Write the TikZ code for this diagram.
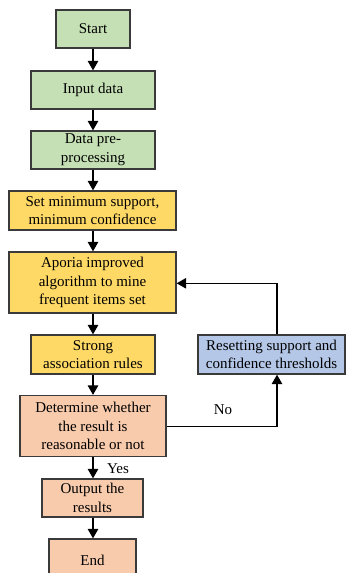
\documentclass[tikz,border=0pt]{standalone}
\usepackage{fontspec}
\setmainfont{Liberation Serif}
\usetikzlibrary{arrows.meta}
\definecolor{boxgreen}{HTML}{C5E0B4}
\definecolor{boxyellow}{HTML}{FFD966}
\definecolor{boxorange}{HTML}{F8CBAD}
\definecolor{boxblue}{HTML}{B4C7E7}
\definecolor{edgegray}{HTML}{3A3A3A}
\tikzset{
  stepbox/.style={draw=edgegray, line width=1.3pt, align=center, inner sep=0pt,
    font=\fontsize{15pt}{18.7pt}\selectfont},
  greenbox/.style={stepbox, fill=boxgreen},
  yellowbox/.style={stepbox, fill=boxyellow},
  orangebox/.style={stepbox, fill=boxorange},
  bluebox/.style={stepbox, fill=boxblue},
  flow/.style={line width=1.3pt, -{Triangle[length=9.5pt,width=10.5pt]}},
  lbl/.style={font=\fontsize{15pt}{18pt}\selectfont, inner sep=0pt}
}
\begin{document}
\begin{tikzpicture}[x=1pt,y=-1pt]
\clip (0,0) rectangle (346,573);
\fill[white] (0,0) rectangle (346,573);

\node[greenbox, minimum width=74pt, minimum height=38pt] (start) at (93,29) {Start};
\node[greenbox, minimum width=124pt, minimum height=38pt] (input) at (93,90) {Input data};
\node[greenbox, minimum width=124pt, minimum height=38pt] (pre) at (93,150) {Data pre-\\processing};
\node[yellowbox, minimum width=167pt, minimum height=39pt] (setmin) at (92.5,210.5) {Set minimum support,\\minimum confidence};
\node[yellowbox, minimum width=167pt, minimum height=61pt] (aporia) at (92.5,282.5) {Aporia improved\\algorithm to mine\\frequent items set};
\node[yellowbox, minimum width=124pt, minimum height=39pt] (strong) at (93,354.5) {Strong\\association rules};
\node[bluebox, minimum width=147pt, minimum height=39pt] (reset) at (271.5,354.5) {Resetting support and\\confidence thresholds};
\node[orangebox, minimum width=146pt, minimum height=61pt] (determ) at (93,426) {Determine whether\\the result is\\reasonable or not};
\node[orangebox, minimum width=101pt, minimum height=38pt] (output) at (92.5,498) {Output the\\results};
\node[orangebox, minimum width=87pt, minimum height=42pt] (end) at (92.5,560) {End};

\coordinate (noturn) at (277,426.3);
\coordinate (upturn) at (277,283.3);

\draw[flow] (start.south -| 93,0) -- (input.north -| 93,0);
\draw[flow] (input) -- (pre);
\draw[flow] (pre) -- (setmin.north -| 93,0);
\draw[flow] (setmin.south -| 93,0) -- (aporia.north -| 93,0);
\draw[flow] (aporia.south -| 93,0) -- (strong);
\draw[flow] (strong) -- (determ);
\draw[flow] (determ.south -| 93,0) -- (output.north -| 93,0);
\draw[flow] (output.south -| 93,0) -- (end.north -| 93,0);
\draw[flow] (determ.east |- noturn) -- (noturn) -- (reset.south -| noturn);
\draw[flow] (reset.north -| upturn) -- (upturn) -- (aporia.east |- upturn);

\node[lbl] (nolbl) at (223,410) {No};
\node[lbl] (yeslbl) at (118,469) {Yes};
\end{tikzpicture}
\end{document}
